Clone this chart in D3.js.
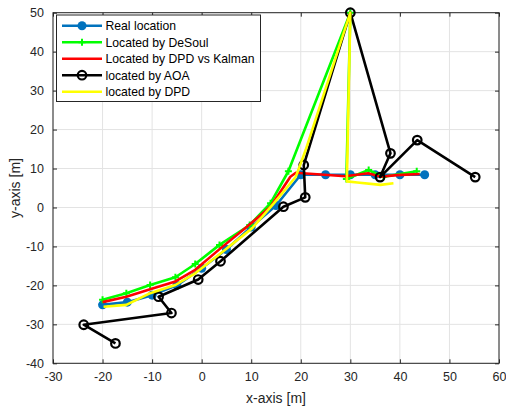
<!DOCTYPE html>
<html>
<head>
<meta charset="utf-8">
<script src="https://cdn.jsdelivr.net/npm/d3@7"></script>
<style>
  body { margin: 0; background: #fff; }
  text { font-family: "Liberation Sans", Arial, sans-serif; }
</style>
</head>
<body>
<svg width="506" height="408"></svg>
<script>
// data
var realX = [-20, -15, -10, -5, 0, 5, 10, 15, 20, 25, 30, 35, 40, 45];
var realY = [-25, -24.3, -22.5, -20, -15.6, -10.8, -5, 0.5, 8.4, 8.4, 8.4, 8.4, 8.4, 8.4];

var desoulX = [-20, -15.2, -10.4, -5.3, -1.3, 3.6, 9.7, 13.9, 17.5, 30, 29.2, 33.7, 36.7, 43.4];
var desoulY = [-23.7, -22, -19.9, -17.9, -14.5, -9.6, -4.5, 1.1, 9.3, 50, 7.3, 9.6, 7.9, 9.3];

var kalmanX = [-20, -15.2, -10.4, -5.3, -1.3, 3.8, 9.2, 13.9, 17.9, 19, 29, 33.6, 36.1, 39.4, 44];
var kalmanY = [-24.3, -22.9, -21, -19, -16, -10.5, -4.9, 0.2, 7.9, 8.9, 8, 8.8, 7.9, 8.3, 8.6];

var aoaX = [-17.4, -23.8, -6.1, -8.7, -0.7, 3.8, 16.5, 20.9, 20.6, 30, 38.1, 36, 43.5, 55.2];
var aoaY = [-34.9, -30.1, -27.1, -22.9, -18.5, -13.8, 0.2, 2.6, 10.9, 50, 13.9, 7.8, 17.3, 7.8];

var dpdX = [-19.8, -15.2, -10.4, -5.3, -1.3, 3.8, 10.2, 14.6, 19, 21, 30, 29.3, 31.4, 36.1, 38.7];
var dpdY = [-25.5, -25, -22, -19.9, -16.9, -11.8, -5.3, 1.1, 7.9, 14.8, 50, 6.7, 6.4, 5.8, 6.2];

var xTicks = [-30, -20, -10, 0, 10, 20, 30, 40, 50, 60];
var yTicks = [-40, -30, -20, -10, 0, 10, 20, 30, 40, 50];

var legendNames = ['Real location', 'Located by DeSoul', 'Located by DPD vs Kalman', 'located by AOA', 'located by DPD'];

function zipPts(xs, ys) {
    return xs.map(function(x, i){ return {x: x, y: ys[i]}; });
}

var series = [
    {name: legendNames[0], color: '#0072BD', marker: 'dot', pts: zipPts(realX, realY)},
    {name: legendNames[1], color: '#00FF00', marker: 'plus', pts: zipPts(desoulX, desoulY)},
    {name: legendNames[2], color: '#FF0000', marker: 'none', pts: zipPts(kalmanX, kalmanY)},
    {name: legendNames[3], color: '#000000', marker: 'circle', pts: zipPts(aoaX, aoaY)},
    {name: legendNames[4], color: '#FFFF00', marker: 'none', pts: zipPts(dpdX, dpdY)}
];

var plotLeft = 53, plotRight = 499, plotTop = 12.7, plotBottom = 363.3;

var svg = d3.select('svg');

var x = d3.scaleLinear().domain([-30, 60]).range([plotLeft, plotRight]);
var y = d3.scaleLinear().domain([-40, 50]).range([plotBottom, plotTop]);

var plainFmt = function(d){ return String(d); };

// grid
svg.append('g')
    .selectAll('line')
    .data(xTicks)
    .enter()
    .append('line')
    .attr('x1', function(d){ return x(d); })
    .attr('x2', function(d){ return x(d); })
    .attr('y1', plotTop)
    .attr('y2', plotBottom)
    .attr('stroke', '#e3e3e3')
    .attr('stroke-width', 1);
svg.append('g')
    .selectAll('line')
    .data(yTicks)
    .enter()
    .append('line')
    .attr('x1', plotLeft)
    .attr('x2', plotRight)
    .attr('y1', function(d){ return y(d); })
    .attr('y2', function(d){ return y(d); })
    .attr('stroke', '#e3e3e3')
    .attr('stroke-width', 1);

// axes (ticks inside, on all four sides)
function styleAxis(g) {
    g.select('.domain').remove();
    g.selectAll('.tick line').attr('stroke', '#262626');
    g.selectAll('.tick text')
        .attr('fill', '#262626')
        .style('font-size', '12.5px')
        .style('font-family', '"Liberation Sans", Arial, sans-serif');
}

svg.append('g')
    .attr('transform', 'translate(0,' + plotBottom + ')')
    .call(d3.axisBottom(x).tickValues(xTicks).tickSizeInner(-4).tickPadding(9).tickFormat(plainFmt))
    .call(styleAxis);
svg.append('g')
    .attr('transform', 'translate(0,' + plotTop + ')')
    .call(d3.axisTop(x).tickValues(xTicks).tickSizeInner(-4).tickFormat(''))
    .call(styleAxis);
svg.append('g')
    .attr('transform', 'translate(' + plotLeft + ',0)')
    .call(d3.axisLeft(y).tickValues(yTicks).tickSizeInner(-4).tickPadding(9).tickFormat(plainFmt))
    .call(styleAxis);
svg.append('g')
    .attr('transform', 'translate(' + plotRight + ',0)')
    .call(d3.axisRight(y).tickValues(yTicks).tickSizeInner(-4).tickFormat(''))
    .call(styleAxis);

svg.append('rect')
    .attr('x', plotLeft)
    .attr('y', plotTop)
    .attr('width', plotRight - plotLeft)
    .attr('height', plotBottom - plotTop)
    .attr('fill', 'none')
    .attr('stroke', '#262626')
    .attr('stroke-width', 1);

// axis titles
svg.append('text')
    .attr('x', (plotLeft + plotRight) / 2)
    .attr('y', 403)
    .attr('text-anchor', 'middle')
    .attr('fill', '#262626')
    .style('font-size', '14px')
    .text('x-axis [m]');
svg.append('text')
    .attr('transform', 'translate(20,' + ((plotTop + plotBottom) / 2) + ') rotate(-90)')
    .attr('text-anchor', 'middle')
    .attr('fill', '#262626')
    .style('font-size', '14px')
    .text('y-axis [m]');

var lineFunction = d3.line()
    .x(function(d){ return x(d.x); })
    .y(function(d){ return y(d.y); });

function drawMarkers(g, s, pts) {
    if (s.marker === 'dot') {
        g.selectAll('circle')
            .data(pts)
            .enter()
            .append('circle')
            .attr('cx', function(d){ return x(d.x); })
            .attr('cy', function(d){ return y(d.y); })
            .attr('r', 4.5)
            .attr('fill', s.color);
    } else if (s.marker === 'circle') {
        g.selectAll('circle')
            .data(pts)
            .enter()
            .append('circle')
            .attr('cx', function(d){ return x(d.x); })
            .attr('cy', function(d){ return y(d.y); })
            .attr('r', 4.3)
            .attr('fill', 'none')
            .attr('stroke', s.color)
            .attr('stroke-width', 2.2);
    } else if (s.marker === 'plus') {
        g.selectAll('path.plus')
            .data(pts)
            .enter()
            .append('path')
            .attr('class', 'plus')
            .attr('d', function(d){
                var cx = x(d.x), cy = y(d.y);
                return 'M' + (cx - 3.5) + ',' + cy + 'H' + (cx + 3.5) +
                       'M' + cx + ',' + (cy - 3.5) + 'V' + (cy + 3.5);
            })
            .attr('stroke', s.color)
            .attr('stroke-width', 2);
    }
}

// plot the series
series.forEach(function(s){
    var g = svg.append('g');
    g.append('path')
        .datum(s.pts)
        .attr('d', lineFunction)
        .attr('fill', 'none')
        .attr('stroke', s.color)
        .attr('stroke-width', 2.6)
        .attr('stroke-linejoin', 'round');
    drawMarkers(g, s, s.pts);
});

// legend
var lg = svg.append('g');
lg.append('rect')
    .attr('x', 56.5)
    .attr('y', 15)
    .attr('width', 204)
    .attr('height', 86.5)
    .attr('fill', '#fff')
    .attr('stroke', '#262626')
    .attr('stroke-width', 1);

series.forEach(function(s, i){
    var ly = 25.7 + i * 16.5;
    var row = lg.append('g');
    row.append('line')
        .attr('x1', 62)
        .attr('x2', 102)
        .attr('y1', ly)
        .attr('y2', ly)
        .attr('stroke', s.color)
        .attr('stroke-width', 2.6);
    if (s.marker === 'dot') {
        row.append('circle').attr('cx', 82).attr('cy', ly).attr('r', 4.5).attr('fill', s.color);
    } else if (s.marker === 'circle') {
        row.append('circle').attr('cx', 82).attr('cy', ly).attr('r', 4.3)
            .attr('fill', 'none').attr('stroke', s.color).attr('stroke-width', 2.2);
    } else if (s.marker === 'plus') {
        row.append('path')
            .attr('d', 'M78.5,' + ly + 'H85.5M82,' + (ly - 3.5) + 'V' + (ly + 3.5))
            .attr('stroke', s.color).attr('stroke-width', 2);
    }
    row.append('text')
        .attr('x', 105.5)
        .attr('y', ly + 4.3)
        .attr('fill', '#000')
        .style('font-size', '12.2px')
        .text(s.name);
});
</script>
</body>
</html>
